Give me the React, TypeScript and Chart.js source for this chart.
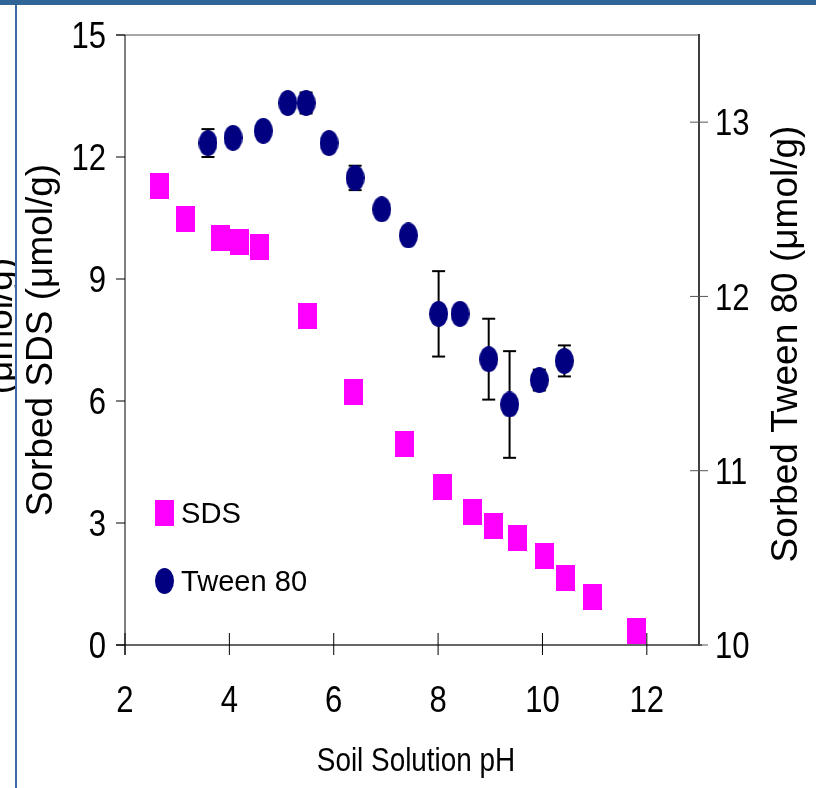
import { useEffect, useRef } from 'react';
import { Chart, registerables } from 'chart.js';

Chart.register(...registerables);

// ---- data ----
const sdsPH = [2.67, 3.15, 3.83, 4.19, 4.58, 5.49, 6.37, 7.36, 8.09, 8.66, 9.06, 9.52, 10.03, 10.45, 10.95, 11.8];
const sdsSorbed = [11.29, 10.48, 10.01, 9.9, 9.79, 8.09, 6.23, 4.94, 3.89, 3.27, 2.93, 2.63, 2.19, 1.65, 1.18, 0.34];
const tweenPH = [3.59, 4.07, 4.65, 5.12, 5.47, 5.91, 6.41, 6.92, 7.43, 8.01, 8.42, 8.97, 9.37, 9.94, 10.42];
const tweenSorbed = [12.88, 12.91, 12.95, 13.11, 13.11, 12.88, 12.68, 12.5, 12.35, 11.9, 11.9, 11.64, 11.38, 11.52, 11.63];
const tweenError = [0.08, 0, 0, 0, 0.06, 0, 0.07, 0, 0, 0.245, 0, 0.232, 0.306, 0.06, 0.089];
const xTickValues = [2, 4, 6, 8, 10, 12];
const sdsTickValues = [0, 3, 6, 9, 12, 15];
const tweenTickValues = [10, 11, 12, 13];
const seriesLabels = ['SDS', 'Tween 80'];
const xTitle = 'Soil Solution pH';
const leftTitle = 'Sorbed SDS (μmol/g)';
const rightTitle = 'Sorbed Tween 80 (μmol/g)';
const clippedText = '(μmol/g)';

const FONT = "'Liberation Sans', Arial, sans-serif";
const MAGENTA = '#ff00ff';
const NAVY = '#000080';

function makeMarker(kind: 'rect' | 'ellipse', color: string) {
  const c = document.createElement('canvas');
  c.width = 19;
  c.height = 26;
  const g = c.getContext('2d')!;
  g.fillStyle = color;
  if (kind === 'rect') {
    g.fillRect(0, 0, 19, 26);
  } else {
    g.beginPath();
    g.ellipse(9.5, 13, 9.5, 13, 0, 0, Math.PI * 2);
    g.fill();
  }
  return c;
}

function line(ctx: CanvasRenderingContext2D, x1: number, y1: number, x2: number, y2: number) {
  ctx.beginPath();
  ctx.moveTo(x1, y1);
  ctx.lineTo(x2, y2);
  ctx.stroke();
}

// condensed text (the reference uses narrow, tall lettering)
function narrowText(
  ctx: CanvasRenderingContext2D,
  text: string,
  x: number,
  y: number,
  size: number,
  sx: number,
  align: CanvasTextAlign,
) {
  ctx.save();
  ctx.translate(x, y);
  ctx.scale(sx, 1);
  ctx.font = `${size}px ${FONT}`;
  ctx.fillStyle = '#000';
  ctx.textAlign = align;
  ctx.textBaseline = 'alphabetic';
  ctx.fillText(text, 0, 0);
  ctx.restore();
}

const framePlugin = {
  id: 'frameLines',
  beforeDatasetsDraw(chart: any) {
    const { ctx, chartArea: a, scales } = chart;
    ctx.save();
    ctx.lineCap = 'butt';
    // top border
    ctx.strokeStyle = '#8a8a8a';
    ctx.lineWidth = 1.5;
    line(ctx, a.left - 9, a.top, a.right, a.top);
    // right border / right axis
    ctx.strokeStyle = '#404040';
    ctx.lineWidth = 2;
    line(ctx, a.right, a.top - 1, a.right, a.bottom + 1);
    // left axis
    ctx.strokeStyle = '#000';
    ctx.lineWidth = 1;
    line(ctx, a.left, a.top, a.left, a.bottom + 10);
    // bottom axis
    ctx.strokeStyle = '#333';
    ctx.lineWidth = 1.5;
    line(ctx, a.left - 9, a.bottom, a.right + 3, a.bottom);
    // ticks
    ctx.lineWidth = 1;
    ctx.strokeStyle = '#000';
    sdsTickValues.forEach((v) => {
      const py = scales.y.getPixelForValue(v);
      line(ctx, a.left - 9, py, a.left, py);
    });
    xTickValues.forEach((v) => {
      const px = scales.x.getPixelForValue(v);
      line(ctx, px, a.bottom - 12, px, a.bottom + 10);
    });
    ctx.strokeStyle = '#555';
    tweenTickValues.forEach((v) => {
      const py = scales.y1.getPixelForValue(v);
      line(ctx, a.right - 9, py, a.right + 9, py);
    });
    // error bars (Tween 80)
    ctx.strokeStyle = '#000';
    ctx.lineWidth = 2;
    tweenPH.forEach((x, i) => {
      const e = tweenError[i];
      if (!e) return;
      const px = scales.x.getPixelForValue(x);
      const pTop = scales.y1.getPixelForValue(tweenSorbed[i] + e);
      const pBot = scales.y1.getPixelForValue(tweenSorbed[i] - e);
      line(ctx, px, pTop, px, pBot);
      line(ctx, px - 6.5, pTop, px + 6.5, pTop);
      line(ctx, px - 6.5, pBot, px + 6.5, pBot);
    });
    ctx.restore();
  },
  afterDraw(chart: any) {
    const { ctx, chartArea: a, scales } = chart;
    const W = chart.width;
    const H = chart.height;
    ctx.save();
    // tick labels
    xTickValues.forEach((v) => {
      narrowText(ctx, String(v), scales.x.getPixelForValue(v), a.bottom + 67, 37, 0.84, 'center');
    });
    sdsTickValues.forEach((v) => {
      narrowText(ctx, String(v), a.left - 19, scales.y.getPixelForValue(v) + 13.3, 37, 0.84, 'right');
    });
    tweenTickValues.forEach((v) => {
      narrowText(ctx, String(v), a.right + 16, scales.y1.getPixelForValue(v) + 13.3, 37, 0.84, 'left');
    });
    // x axis title
    narrowText(ctx, xTitle, (a.left + a.right) / 2 + 4, a.bottom + 126, 34, 0.82, 'center');

    // page decorations: blue frame of the surrounding document
    ctx.fillStyle = '#2f6496';
    ctx.fillRect(0, 0, W, 5);
    ctx.fillStyle = '#3a6ca3';
    ctx.fillRect(15, 5, 2, H - 5);
    // clipped neighbouring label at far left
    ctx.save();
    ctx.beginPath();
    ctx.rect(0, 5, 15, H);
    ctx.clip();
    ctx.translate(12, 326);
    ctx.rotate(-Math.PI / 2);
    ctx.fillStyle = '#000';
    ctx.font = `37px ${FONT}`;
    ctx.textAlign = 'center';
    ctx.textBaseline = 'alphabetic';
    ctx.fillText(clippedText, 0, 0);
    ctx.restore();
    // right axis title (reads bottom-to-top)
    ctx.save();
    ctx.translate(787, (a.top + a.bottom) / 2 + 4);
    ctx.rotate(-Math.PI / 2);
    ctx.fillStyle = '#000';
    ctx.font = `37px ${FONT}`;
    ctx.textAlign = 'center';
    ctx.textBaseline = 'middle';
    ctx.fillText(rightTitle, 0, 0);
    ctx.restore();
    // legend inside plot
    const ds = chart.data.datasets;
    const entries = [
      { cx: 164.5, cy: 512.5 },
      { cx: 164.5, cy: 581 },
    ];
    ds.forEach((d: any, i: number) => {
      const m = d.pointStyle as HTMLCanvasElement;
      const e = entries[i];
      ctx.drawImage(m, Math.round(e.cx - m.width / 2), Math.round(e.cy - m.height / 2));
      narrowText(ctx, d.label, 181, e.cy + 10, 30, 0.97, 'left');
    });
    ctx.restore();
  },
};

export default function App() {
  const ref = useRef<HTMLCanvasElement>(null);
  useEffect(() => {
    const canvas = ref.current!;
    const rectMarker = makeMarker('rect', MAGENTA);
    const ellipseMarker = makeMarker('ellipse', NAVY);
    const chart = new Chart(canvas, {
      type: 'scatter',
      data: {
        datasets: [
          {
            label: seriesLabels[0],
            data: sdsPH.map((x, i) => ({ x, y: sdsSorbed[i] })),
            yAxisID: 'y',
            pointStyle: rectMarker as any,
            pointRadius: 10,
            backgroundColor: MAGENTA,
            borderColor: MAGENTA,
            showLine: false,
          },
          {
            label: seriesLabels[1],
            data: tweenPH.map((x, i) => ({ x, y: tweenSorbed[i] })),
            yAxisID: 'y1',
            pointStyle: ellipseMarker as any,
            pointRadius: 10,
            backgroundColor: NAVY,
            borderColor: NAVY,
            showLine: false,
          },
        ],
      },
      options: {
        responsive: false,
        maintainAspectRatio: false,
        animation: false,
        layout: { padding: { top: 35, left: 0, right: 0, bottom: 0 } },
        plugins: { legend: { display: false }, tooltip: { enabled: false } },
        scales: {
          x: {
            type: 'linear',
            position: 'bottom',
            min: 2,
            max: 13,
            afterBuildTicks: (s: any) => {
              s.ticks = xTickValues.map((value) => ({ value }));
            },
            afterFit: (s: any) => {
              s.height = 143;
            },
            grid: { display: false, drawTicks: false, tickLength: 0 },
            border: { display: false },
            ticks: { display: false },
            title: { display: false, text: xTitle },
          },
          y: {
            type: 'linear',
            position: 'left',
            min: 0,
            max: 15,
            afterBuildTicks: (s: any) => {
              s.ticks = sdsTickValues.map((value) => ({ value }));
            },
            afterFit: (s: any) => {
              s.width = 125;
            },
            grid: { display: false, drawTicks: false, tickLength: 0 },
            border: { display: false },
            ticks: { display: false },
            title: {
              display: true,
              text: leftTitle,
              color: '#000',
              font: { family: FONT, size: 37 },
              padding: { top: 20, bottom: 0 },
            },
          },
          y1: {
            type: 'linear',
            position: 'right',
            min: 10,
            max: 13.5,
            afterBuildTicks: (s: any) => {
              s.ticks = tweenTickValues.map((value) => ({ value }));
            },
            afterFit: (s: any) => {
              s.width = 117;
            },
            grid: { display: false, drawTicks: false, tickLength: 0 },
            border: { display: false },
            ticks: { display: false },
            title: { display: false, text: rightTitle },
          },
        },
      },
      plugins: [framePlugin],
    });
    return () => chart.destroy();
  }, []);

  return (
    <div style={{ position: 'absolute', left: 0, top: 0, width: 816, height: 788, background: '#fff' }}>
      <canvas ref={ref} width={816} height={788} style={{ width: 816, height: 788, display: 'block' }} />
    </div>
  );
}
